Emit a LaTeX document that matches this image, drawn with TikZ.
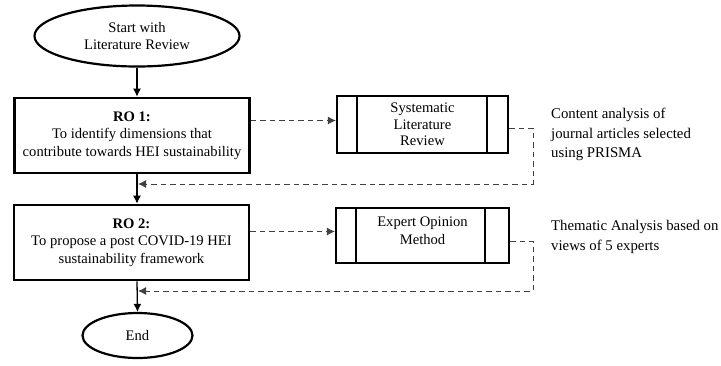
\documentclass[tikz,border=0pt]{standalone}
\usepackage{fontspec}
\setmainfont{Liberation Serif}
\usetikzlibrary{arrows.meta,calc,shapes.geometric}
\begin{document}
\begin{tikzpicture}[x=1pt,y=-1pt,
  txt/.style={font=\fontsize{14.6}{17.5}\selectfont, align=center, inner sep=0pt},
  term/.style={txt, ellipse, draw, line width=2.2pt},
  robox/.style={txt, rectangle, draw, line width=2.6pt, minimum width=235pt, minimum height=75pt},
  subbox/.style={txt, rectangle, draw, line width=2.2pt},
  note/.style={font=\fontsize{14.8}{19.5}\selectfont, align=left, inner sep=0pt, anchor=west},
  flow/.style={line width=1.3pt, -{Latex[length=8pt,width=8pt]}},
  dashline/.style={line width=1pt, dash pattern=on 5.5pt off 4pt, black!75},
  dasharrow/.style={dashline, -{Latex[length=8pt,width=8pt]}}
]
\useasboundingbox (0,0) rectangle (721,365);

\node[term, minimum width=205pt, minimum height=61pt] (start) at (137,36) {Start with\\Literature Review};
\node[robox] (ro1) at (132,135.5) {\textbf{RO 1:}\\To identify dimensions that\\contribute towards HEI sustainability};
\node[robox] (ro2) at (131.5,242.5) {\textbf{RO 2:}\\To propose a post COVID-19 HEI\\sustainability framework};
\node[term, minimum width=110pt, minimum height=45pt] (end) at (137.5,335.5) {End};

\node[subbox, minimum width=171pt, minimum height=57pt, font=\fontsize{14.6}{16.5}\selectfont] (slr) at (422.5,124.5) {Systematic\\Literature\\Review};
\node[subbox, minimum width=173pt, minimum height=55pt, text depth=10pt] (eom) at (422.5,235.5) {Expert Opinion\\Method};
\draw[line width=2.2pt] ($(slr.north west)+(21,0)$) -- ($(slr.south west)+(21,0)$);
\draw[line width=2.2pt] ($(slr.north east)+(-22,0)$) -- ($(slr.south east)+(-22,0)$);
\draw[line width=2.2pt] ($(eom.north west)+(21,0)$) -- ($(eom.south west)+(21,0)$);
\draw[line width=2.2pt] ($(eom.north east)+(-25,0)$) -- ($(eom.south east)+(-25,0)$);

\node[note] (n1) at (551,134.5) {Content analysis of\\journal articles selected\\using PRISMA};
\node[note] (n2) at (551,237) {Thematic Analysis based on\\views of 5 experts};

% main flow
\draw[flow] (start.south) -- (start.south |- ro1.north);
\draw[flow] (start.south |- ro1.south) -- (start.south |- ro2.north);
\draw[flow] (start.south |- ro2.south) -- (end.north);

% outgoing dashed
\coordinate (o1) at ($(ro1.east)+(0,-15)$);
\coordinate (o2) at ($(ro2.east)+(0,-11)$);
\draw[dasharrow] (o1) -- (slr.west |- o1);
\draw[dasharrow] (o2) -- (eom.west |- o2);

% feedback dashed
\coordinate (b1) at ($(slr.east)+(0,3.5)$);
\coordinate (c1) at (533,128);
\coordinate (d1) at (533,184);
\coordinate (e1) at (138,184);
\draw[dasharrow] (b1) -- (c1) -- (d1) -- (e1);
\coordinate (b2) at ($(eom.east)+(0,5.5)$);
\coordinate (c2) at (533,241);
\coordinate (d2) at (533,291);
\coordinate (e2) at (138,291);
\draw[dasharrow] (b2) -- (c2) -- (d2) -- (e2);
\end{tikzpicture}
\end{document}
